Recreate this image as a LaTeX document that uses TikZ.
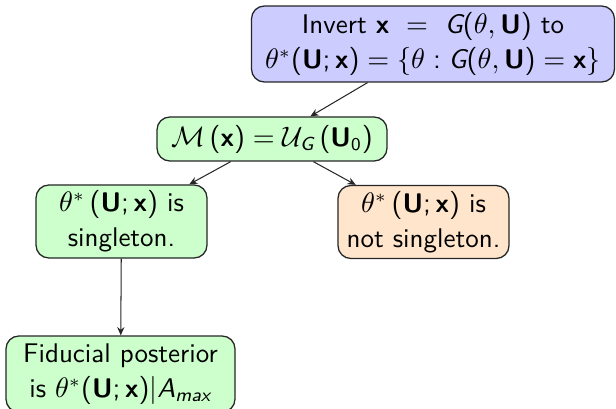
\documentclass[tikz,border=0pt]{standalone}
\usepackage{amsmath}
\SetSymbolFont{operators}{normal}{OT1}{cmss}{m}{n}
\usetikzlibrary{arrows.meta}
\definecolor{boxblue}{RGB}{204,204,255}
\definecolor{boxgreen}{RGB}{204,255,204}
\definecolor{boxorange}{RGB}{255,229,204}
\tikzset{
  box/.style={draw=black!85, rounded corners=5pt, align=center, inner sep=0pt,
    font=\sffamily\fontsize{10.5}{13.6}\selectfont, line width=0.5pt},
  link/.style={-{Stealth[length=3.2pt,width=2.8pt]}, draw=black!85, line width=0.4pt}
}
\begin{document}
\begin{tikzpicture}[x=0.389pt, y=-0.389pt]
\useasboundingbox (0,0) rectangle (616,408);
\node[box, fill=boxblue, minimum width=363*0.389pt, minimum height=76*0.389pt] (top) at (433,44)
  {Invert $\textbf{x}\ =\ \textit{G}(\theta,\textbf{U})$ to\\
   $\theta^*(\textbf{U};\textbf{x})=\{\theta : \textit{G}(\theta,\textbf{U})=\textbf{x}\}$};
\node[box, fill=boxgreen, minimum width=230*0.389pt, minimum height=44*0.389pt] (mid) at (272,139)
  {$\mathcal{M}\left(\textbf{x}\right)=\mathcal{U}_{\textit{G}}\left(\textbf{U}_0\right)$};
\node[box, fill=boxgreen, minimum width=171*0.389pt, minimum height=73*0.389pt] (left) at (121.5,221.5)
  {$\theta^*\left(\textbf{U};\textbf{x}\right)$ is\\ singleton.};
\node[box, fill=boxorange, minimum width=171*0.389pt, minimum height=73*0.389pt] (right) at (423.5,222)
  {$\theta^*\left(\textbf{U};\textbf{x}\right)$ is\\ not singleton.};
\node[box, fill=boxgreen, minimum width=229*0.389pt, minimum height=76*0.389pt] (bot) at (120.5,374)
  {Fiducial posterior\\ is $\theta^*(\textbf{U};\textbf{x})|\textit{A}_{\textit{max}}$};
\draw[link] (top) -- (mid);
\draw[link] (mid) -- (left);
\draw[link] (mid) -- (right);
\draw[link] (left) -- (bot);
\end{tikzpicture}
\end{document}
